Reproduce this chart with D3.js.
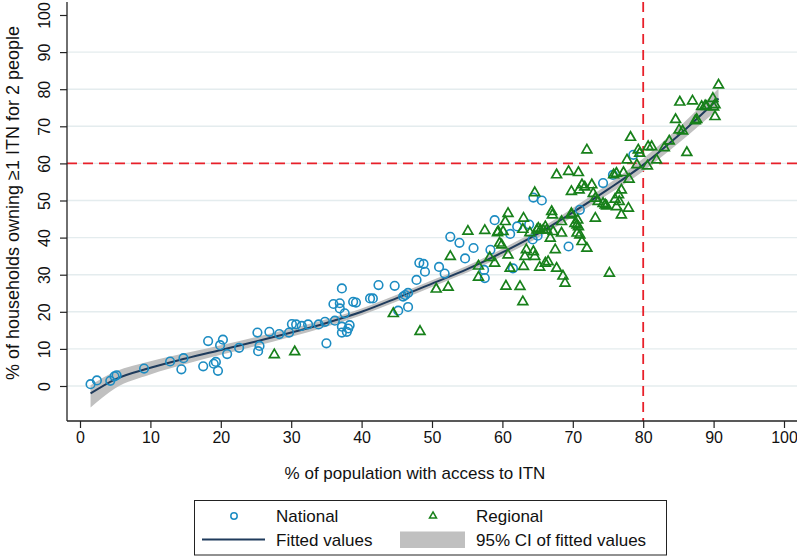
<!DOCTYPE html>
<html>
<head>
<meta charset="utf-8">
<script src="https://cdn.jsdelivr.net/npm/d3@7"></script>
<style>
  body { margin: 0; background: #fff; }
  svg { display: block; font-family: "Liberation Sans", Arial, sans-serif; }
</style>
</head>
<body>
<svg id="chart" width="797" height="556"></svg>
<script>
// national points [x, y]
const national = [
  [1.5, 0.5], [2.4, 1.5], [4.3, 1.4], [4.9, 2.6], [5.2, 2.9], [9.1, 4.7], [12.8, 6.6],
  [14.7, 7.5], [14.4, 4.5], [17.5, 5.3], [18.2, 12.1], [19.0, 6.0], [19.3, 6.5], [19.6, 4.1],
  [19.9, 11.0], [20.3, 12.5], [20.9, 8.6], [22.6, 10.3], [25.2, 14.4], [25.3, 9.4], [25.5, 10.8],
  [26.9, 14.6], [28.3, 14.0], [29.7, 14.4], [30.1, 16.7], [30.7, 16.6], [31.5, 16.2], [32.4, 16.6],
  [33.9, 16.6], [34.8, 17.3], [35.0, 11.5], [36.0, 22.1], [36.2, 17.6], [36.9, 22.3], [37.2, 26.3],
  [36.9, 20.9], [37.2, 16.0], [37.2, 14.4], [37.6, 19.6], [37.9, 14.6], [38.1, 15.5], [38.3, 16.4],
  [38.8, 22.7], [39.2, 22.5], [41.2, 23.6], [41.6, 23.6], [42.4, 27.2], [44.7, 27.0], [45.2, 20.3],
  [45.9, 24.1], [46.2, 24.5], [46.6, 25.1], [46.6, 21.3], [47.8, 28.6], [48.2, 33.2], [48.8, 32.9],
  [49.0, 30.8], [51.0, 32.1], [51.8, 30.3], [52.6, 40.2], [53.9, 38.6], [54.7, 34.4], [55.9, 37.2],
  [57.4, 31.3], [57.5, 29.1], [58.3, 36.7], [58.9, 44.7], [61.1, 41.0], [61.5, 31.7], [62.1, 43.0],
  [63.8, 43.5], [64.4, 50.8], [65.6, 50.0], [64.3, 39.5], [65.0, 40.5], [69.4, 37.6], [71.0, 47.5],
  [74.3, 54.7], [75.7, 56.9], [78.6, 62.3]
];

// regional points [x, y]
const regional = [
  [27.6, 8.4], [30.5, 9.2], [44.5, 19.5], [48.3, 14.7], [50.6, 26.1], [52.3, 26.6], [52.6, 34.9],
  [56.6, 32.3], [56.6, 29.3], [57.5, 41.9], [58.2, 34.6], [58.9, 33.1], [59.3, 41.3], [59.6, 38.5],
  [59.4, 41.6], [60.8, 46.5], [60.4, 44.3], [59.9, 38.0], [60.8, 35.3], [60.5, 26.9], [61.1, 31.7],
  [62.5, 26.8], [62.9, 22.7], [63.0, 45.2], [63.0, 32.2], [63.2, 34.9], [63.4, 36.7], [63.9, 41.3],
  [64.4, 36.2], [64.6, 34.9], [64.6, 52.1], [64.9, 42.0], [65.1, 42.5], [65.4, 42.0], [65.8, 42.0],
  [66.1, 42.9], [66.3, 42.0], [66.5, 33.5], [66.8, 39.8], [67.0, 47.0], [67.1, 46.1], [67.2, 41.6],
  [67.5, 36.7], [67.7, 31.7], [66.1, 33.1], [65.3, 32.0], [67.7, 56.9], [69.4, 57.8], [69.8, 52.4],
  [68.9, 27.7], [68.4, 44.3], [68.4, 41.2], [69.8, 46.5], [70.6, 43.4], [70.6, 41.2], [70.7, 44.7],
  [70.8, 57.5], [70.9, 52.8], [72.0, 63.6], [71.3, 54.2], [71.7, 53.6], [72.7, 54.2], [72.9, 51.9],
  [73.2, 50.6], [73.6, 49.7], [74.3, 49.2], [74.6, 48.8], [74.8, 48.5], [75.8, 56.9], [76.2, 57.3],
  [76.0, 50.3], [76.5, 51.5], [76.9, 52.8], [76.6, 49.7], [76.2, 48.3], [76.9, 46.1], [77.9, 47.9],
  [77.2, 57.5], [78.0, 55.7], [77.7, 60.9], [78.2, 67.0], [79.3, 63.6], [79.5, 62.7], [79.1, 59.6],
  [80.7, 64.5], [81.2, 64.5], [80.6, 59.3], [81.9, 60.9], [70.3, 43.8], [70.8, 42.9], [71.0, 40.7],
  [71.3, 38.9], [69.8, 46.1], [73.2, 45.2], [75.2, 30.4], [72.0, 37.1], [83.0, 64.2], [83.7, 66.0],
  [84.6, 71.8], [85.2, 76.5], [85.1, 69.0], [85.6, 68.7], [86.2, 62.9], [87.0, 76.8], [87.4, 71.5],
  [87.6, 71.8], [88.3, 75.3], [88.8, 75.5], [89.0, 75.3], [89.9, 77.5], [90.2, 72.6], [90.7, 81.1],
  [90.0, 75.2], [90.2, 75.8], [60.1, 41.6], [62.9, 42.2], [68.6, 29.6], [55.1, 41.7]
];

// fitted curve and its 95% CI
const fitX = [1.5, 5, 10, 15, 20, 25, 30, 35, 40, 45, 50, 55, 60, 65, 70, 75, 80, 85, 90.7];
const fitY = [-2.0, 1.8, 4.9, 7.4, 9.7, 12.0, 14.4, 17.0, 20.0, 23.7, 27.6, 31.5, 36.0, 41.0, 46.8, 53.0, 59.6, 67.5, 77.5];
const ciLo = [-5.8, -0.6, 3.1, 5.9, 8.4, 10.8, 13.3, 16.0, 19.1, 22.8, 26.7, 30.6, 35.0, 39.9, 45.6, 51.6, 57.9, 65.4, 74.8];
const ciHi = [0.2, 3.9, 6.7, 8.9, 11.0, 13.2, 15.5, 18.0, 20.9, 24.6, 28.5, 32.4, 37.0, 42.1, 48.0, 54.4, 61.3, 69.6, 80.2];

const xTicks = [0, 10, 20, 30, 40, 50, 60, 70, 80, 90, 100];
const yTicks = [0, 10, 20, 30, 40, 50, 60, 70, 80, 90, 100];
const gridTicks = [0, 10, 20, 30, 40, 50, 60, 70, 80, 90];
const refX = 80;
const refY = 60;

const blue = "#1c8cc2";
const green = "#17801a";
const navy = "#1f3b5c";
const red = "#e8202a";

const svg = d3.select("#chart");

// plot frame
const plotLeft = 67, plotRight = 797, plotTop = 2, plotBottom = 421;
const x = d3.scaleLinear().domain([0, 100]).range([80, 784]);
const y = d3.scaleLinear().domain([0, 100]).range([386, 15]);

// gridlines
svg.append("g")
  .selectAll("line")
  .data(gridTicks)
  .enter()
  .append("line")
  .attr("x1", plotLeft).attr("x2", plotRight)
  .attr("y1", (d) => y(d)).attr("y2", (d) => y(d))
  .attr("stroke", "#e4ecee")
  .attr("stroke-width", 1.4);

// reference lines
svg.append("line")
  .attr("x1", plotLeft).attr("x2", plotRight)
  .attr("y1", y(refY)).attr("y2", y(refY))
  .attr("stroke", red).attr("stroke-width", 1.8)
  .attr("stroke-dasharray", "10,6");
svg.append("line")
  .attr("x1", x(refX)).attr("x2", x(refX))
  .attr("y1", plotTop).attr("y2", plotBottom)
  .attr("stroke", red).attr("stroke-width", 1.8)
  .attr("stroke-dasharray", "10,6");

// CI band + fitted line
const fitRows = fitX.map((d, i) => ({ x: d, y: fitY[i], lo: ciLo[i], hi: ciHi[i] }));
const area = d3.area()
  .x((d) => x(d.x))
  .y0((d) => y(d.lo))
  .y1((d) => y(d.hi))
  .curve(d3.curveMonotoneX);
svg.append("path")
  .datum(fitRows)
  .attr("d", area)
  .attr("fill", "#c0c0c0");

const line = d3.line()
  .x((d) => x(d.x))
  .y((d) => y(d.y))
  .curve(d3.curveMonotoneX);
svg.append("path")
  .datum(fitRows)
  .attr("d", line)
  .attr("fill", "none")
  .attr("stroke", navy)
  .attr("stroke-width", 2);

// triangle marker path
const triPath = (s) => {
  const h = s * Math.sqrt(3) / 2;
  return `M0,${-h * 2 / 3}L${s / 2},${h / 3}L${-s / 2},${h / 3}Z`;
};

// markers
svg.append("g")
  .selectAll("circle")
  .data(national)
  .enter()
  .append("circle")
  .attr("cx", (d) => x(d[0]))
  .attr("cy", (d) => y(d[1]))
  .attr("r", 4.3)
  .attr("fill", "none")
  .attr("stroke", blue)
  .attr("stroke-width", 1.6);

svg.append("g")
  .selectAll("path")
  .data(regional)
  .enter()
  .append("path")
  .attr("d", triPath(9.8))
  .attr("transform", (d) => `translate(${x(d[0])},${y(d[1])})`)
  .attr("fill", "none")
  .attr("stroke", green)
  .attr("stroke-width", 1.7);

// axes
const xAxis = svg.append("g")
  .attr("transform", `translate(0,${plotBottom})`)
  .call(d3.axisBottom(x).tickValues(xTicks).tickSize(7).tickSizeOuter(0));
xAxis.select(".domain").remove();
xAxis.selectAll("text").attr("y", 11).attr("dy", "0.71em")
  .style("font-size", "16px").attr("fill", "#111");

const yAxis = svg.append("g")
  .attr("transform", `translate(${plotLeft},0)`)
  .call(d3.axisLeft(y).tickValues(yTicks).tickSize(7).tickSizeOuter(0));
yAxis.select(".domain").remove();
yAxis.selectAll("text")
  .attr("x", 0).attr("y", 0).attr("dy", "0.35em")
  .attr("text-anchor", "middle")
  .attr("transform", "translate(-23,0) rotate(-90)")
  .style("font-size", "16px").attr("fill", "#111");

svg.selectAll(".tick line").attr("stroke", "#222").attr("stroke-width", 1.2);

svg.append("line")
  .attr("x1", plotLeft).attr("x2", plotRight).attr("y1", plotBottom).attr("y2", plotBottom)
  .attr("stroke", "#222").attr("stroke-width", 1.3);
svg.append("line")
  .attr("x1", plotLeft).attr("x2", plotLeft).attr("y1", plotTop).attr("y2", plotBottom)
  .attr("stroke", "#222").attr("stroke-width", 1.3);

// axis titles
svg.append("text")
  .attr("x", 415).attr("y", 479)
  .attr("text-anchor", "middle")
  .style("font-size", "17px").attr("fill", "#111")
  .text("% of population with access to ITN");

svg.append("text")
  .attr("transform", "translate(19,203) rotate(-90)")
  .attr("text-anchor", "middle")
  .style("font-size", "18px").attr("fill", "#111")
  .text("% of households owning \u22651 ITN for 2 people");

// legend
const legend = svg.append("g");
legend.append("rect")
  .attr("x", 194.5).attr("y", 500.5).attr("width", 472).attr("height", 54.5)
  .attr("fill", "#fff").attr("stroke", "#222").attr("stroke-width", 1);

legend.append("circle")
  .attr("cx", 234).attr("cy", 516).attr("r", 3.2)
  .attr("fill", "none").attr("stroke", blue).attr("stroke-width", 1.5);
legend.append("path")
  .attr("d", triPath(7))
  .attr("transform", "translate(433,516)")
  .attr("fill", "none").attr("stroke", green).attr("stroke-width", 1.5);
legend.append("line")
  .attr("x1", 202).attr("x2", 265).attr("y1", 539.5).attr("y2", 539.5)
  .attr("stroke", navy).attr("stroke-width", 2);
legend.append("rect")
  .attr("x", 400).attr("y", 531.5).attr("width", 65).attr("height", 16.5)
  .attr("fill", "#c0c0c0");

const legendItems = [
  { label: "National", x: 276, y: 522 },
  { label: "Regional", x: 476, y: 522 },
  { label: "Fitted values", x: 276, y: 545.5 },
  { label: "95% CI of fitted values", x: 476, y: 545.5 }
];
legend.selectAll("text.lbl")
  .data(legendItems)
  .enter()
  .append("text")
  .attr("class", "lbl")
  .attr("x", (d) => d.x).attr("y", (d) => d.y)
  .style("font-size", "17px").attr("fill", "#111")
  .text((d) => d.label);
</script>
</body>
</html>
